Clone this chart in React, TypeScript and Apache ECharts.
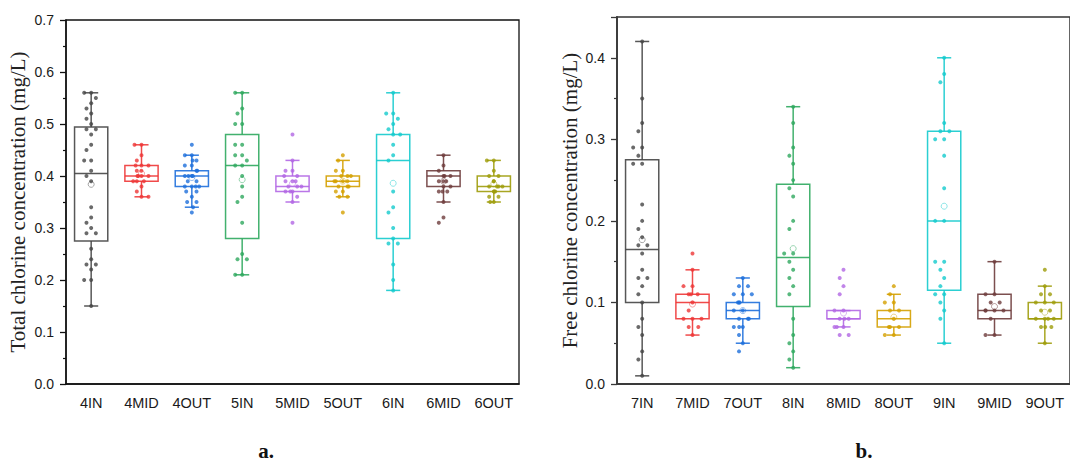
import React, { useEffect, useRef } from "react";
import * as echarts from "echarts";

// ---------- categories ----------
const catsA = ["4IN", "4MID", "4OUT", "5IN", "5MID", "5OUT", "6IN", "6MID", "6OUT"];
const catsB = ["7IN", "7MID", "7OUT", "8IN", "8MID", "8OUT", "9IN", "9MID", "9OUT"];
const palette = ["#454545", "#EE3636", "#1E6FDB", "#2EA85E", "#B267E4", "#D4A000", "#14CACD", "#6E3C3C", "#9E9C0A"];

// ---------- panel a: box stats [min, Q1, median, Q3, max] ----------
const boxA = [
  [0.15, 0.275, 0.405, 0.494, 0.56],
  [0.36, 0.39, 0.40, 0.42, 0.46],
  [0.34, 0.38, 0.40, 0.41, 0.44],
  [0.21, 0.28, 0.42, 0.48, 0.56],
  [0.35, 0.37, 0.38, 0.40, 0.43],
  [0.36, 0.38, 0.39, 0.40, 0.43],
  [0.18, 0.28, 0.43, 0.48, 0.56],
  [0.35, 0.38, 0.40, 0.41, 0.44],
  [0.35, 0.37, 0.38, 0.40, 0.43],
];
const meanA = [0.384, 0.405, 0.397, 0.393, 0.386, 0.39, 0.386, 0.39, 0.385];

const pts4IN = [0.56, 0.56, 0.55, 0.54, 0.53, 0.52, 0.51, 0.50, 0.49, 0.49, 0.48, 0.46, 0.45, 0.43, 0.43, 0.41, 0.40, 0.39, 0.34, 0.32, 0.31, 0.30, 0.29, 0.29, 0.26, 0.24, 0.23, 0.23, 0.22, 0.20, 0.20, 0.15];
const pts4MID = [0.46, 0.46, 0.44, 0.43, 0.42, 0.42, 0.42, 0.41, 0.41, 0.40, 0.40, 0.40, 0.40, 0.39, 0.39, 0.39, 0.38, 0.37, 0.36, 0.36];
const pts4OUT = [0.46, 0.44, 0.44, 0.43, 0.43, 0.42, 0.42, 0.41, 0.41, 0.40, 0.40, 0.40, 0.40, 0.39, 0.39, 0.38, 0.38, 0.38, 0.38, 0.37, 0.37, 0.36, 0.35, 0.35, 0.34, 0.33];
const pts5IN = [0.56, 0.56, 0.53, 0.52, 0.50, 0.50, 0.46, 0.46, 0.44, 0.44, 0.43, 0.42, 0.42, 0.40, 0.38, 0.36, 0.35, 0.31, 0.25, 0.24, 0.24, 0.21, 0.21];
const pts5MID = [0.48, 0.43, 0.41, 0.41, 0.40, 0.40, 0.39, 0.39, 0.39, 0.38, 0.38, 0.38, 0.37, 0.37, 0.37, 0.36, 0.35, 0.31];
const pts5OUT = [0.44, 0.43, 0.41, 0.41, 0.40, 0.40, 0.40, 0.39, 0.39, 0.39, 0.39, 0.38, 0.38, 0.38, 0.37, 0.37, 0.36, 0.36, 0.33];
const pts6IN = [0.56, 0.52, 0.52, 0.51, 0.50, 0.49, 0.48, 0.48, 0.46, 0.44, 0.43, 0.37, 0.34, 0.33, 0.30, 0.28, 0.27, 0.27, 0.23, 0.20, 0.18];
const pts6MID = [0.44, 0.42, 0.41, 0.40, 0.40, 0.40, 0.39, 0.39, 0.39, 0.38, 0.38, 0.37, 0.37, 0.37, 0.35, 0.32, 0.31];
const pts6OUT = [0.43, 0.43, 0.41, 0.40, 0.40, 0.39, 0.39, 0.38, 0.38, 0.38, 0.38, 0.37, 0.37, 0.37, 0.36, 0.36, 0.35, 0.35];
const pointsA = [pts4IN, pts4MID, pts4OUT, pts5IN, pts5MID, pts5OUT, pts6IN, pts6MID, pts6OUT];

// ---------- panel b ----------
const boxB = [
  [0.01, 0.10, 0.165, 0.275, 0.42],
  [0.06, 0.08, 0.10, 0.11, 0.14],
  [0.05, 0.08, 0.09, 0.10, 0.13],
  [0.02, 0.095, 0.155, 0.245, 0.34],
  [0.07, 0.08, 0.08, 0.09, 0.09],
  [0.06, 0.07, 0.08, 0.09, 0.11],
  [0.05, 0.115, 0.20, 0.31, 0.40],
  [0.06, 0.08, 0.09, 0.11, 0.15],
  [0.05, 0.08, 0.08, 0.10, 0.12],
];
const meanB = [0.177, 0.098, 0.09, 0.166, 0.087, 0.082, 0.218, 0.095, 0.088];

const pts7IN = [0.42, 0.35, 0.32, 0.31, 0.29, 0.29, 0.28, 0.27, 0.27, 0.22, 0.20, 0.19, 0.18, 0.17, 0.17, 0.16, 0.14, 0.13, 0.13, 0.12, 0.11, 0.10, 0.08, 0.07, 0.06, 0.04, 0.03, 0.01];
const pts7MID = [0.16, 0.14, 0.12, 0.12, 0.11, 0.11, 0.11, 0.10, 0.09, 0.08, 0.08, 0.08, 0.07, 0.07, 0.06];
const pts7OUT = [0.13, 0.12, 0.12, 0.11, 0.11, 0.11, 0.10, 0.10, 0.10, 0.09, 0.09, 0.08, 0.08, 0.08, 0.07, 0.07, 0.07, 0.06, 0.05, 0.04];
const pts8IN = [0.34, 0.32, 0.29, 0.28, 0.27, 0.25, 0.24, 0.23, 0.20, 0.19, 0.16, 0.16, 0.15, 0.14, 0.13, 0.12, 0.11, 0.08, 0.06, 0.05, 0.04, 0.03, 0.02];
const pts8MID = [0.14, 0.13, 0.12, 0.11, 0.09, 0.09, 0.08, 0.08, 0.08, 0.07, 0.07, 0.07, 0.06, 0.06];
const pts8OUT = [0.12, 0.11, 0.10, 0.10, 0.09, 0.09, 0.08, 0.07, 0.07, 0.07, 0.06, 0.06];
const pts9IN = [0.40, 0.38, 0.37, 0.32, 0.31, 0.31, 0.30, 0.30, 0.28, 0.24, 0.20, 0.20, 0.15, 0.15, 0.14, 0.13, 0.12, 0.11, 0.11, 0.10, 0.09, 0.08, 0.05];
const pts9MID = [0.15, 0.11, 0.11, 0.10, 0.10, 0.09, 0.09, 0.09, 0.09, 0.08, 0.06, 0.06];
const pts9OUT = [0.14, 0.12, 0.11, 0.11, 0.10, 0.10, 0.10, 0.09, 0.09, 0.08, 0.08, 0.08, 0.08, 0.07, 0.07, 0.07, 0.05];
const pointsB = [pts7IN, pts7MID, pts7OUT, pts8IN, pts8MID, pts8OUT, pts9IN, pts9MID, pts9OUT];

const yTicksA = ["0.0", "0.1", "0.2", "0.3", "0.4", "0.5", "0.6", "0.7"];
const yTicksB = ["0.0", "0.1", "0.2", "0.3", "0.4"];

const renderBox = (params: any, api: any) => {
  const i = api.value(0);
  const c = palette[params.dataIndex];
  const pMin = api.coord([i, api.value(1)]);
  const pQ1 = api.coord([i, api.value(2)]);
  const pMed = api.coord([i, api.value(3)]);
  const pQ3 = api.coord([i, api.value(4)]);
  const pMax = api.coord([i, api.value(5)]);
  const pMean = api.coord([i, api.value(6)]);
  const band = api.size([1, 0])[0];
  const bw = band * 0.66;
  const cw = band * 0.28;
  const x = pMed[0];
  const ls = { stroke: c, lineWidth: 1.5, fill: "none", opacity: 0.9 };
  return {
    type: "group",
    children: [
      { type: "line", shape: { x1: x, y1: pMax[1], x2: x, y2: pQ3[1] }, style: ls },
      { type: "line", shape: { x1: x, y1: pQ1[1], x2: x, y2: pMin[1] }, style: ls },
      { type: "line", shape: { x1: x - cw / 2, y1: pMax[1], x2: x + cw / 2, y2: pMax[1] }, style: ls },
      { type: "line", shape: { x1: x - cw / 2, y1: pMin[1], x2: x + cw / 2, y2: pMin[1] }, style: ls },
      { type: "rect", shape: { x: x - bw / 2, y: pQ3[1], width: bw, height: pQ1[1] - pQ3[1] }, style: ls },
      { type: "line", shape: { x1: x - bw / 2, y1: pMed[1], x2: x + bw / 2, y2: pMed[1] }, style: ls },
      { type: "circle", shape: { cx: x, cy: pMean[1], r: 3 }, style: { stroke: c, fill: "none", lineWidth: 0.8, opacity: 0.6 } },
    ],
  };
};

export default function App() {
  const ref = useRef<HTMLDivElement>(null);
  useEffect(() => {
    document.body.style.margin = "0";
    const chart = echarts.init(ref.current!, undefined, { renderer: "svg" });
    const tickFont = { fontFamily: "'Liberation Sans', Arial, sans-serif", color: "#1a1a1a" };
    const mkX = (cats: string[], grid: number, lineW: number, lineC: string, margin: number) => ({
      type: "category",
      gridIndex: grid,
      data: cats,
      boundaryGap: true,
      jitter: 18,
      jitterOverlap: false,
      jitterMargin: margin,
      axisLine: { lineStyle: { color: lineC, width: lineW } },
      axisTick: { alignWithLabel: true, length: 6, lineStyle: { color: lineC, width: 1.3 } },
      axisLabel: { ...tickFont, fontSize: 14.5, margin: 11, interval: 0 },
      splitLine: { show: false },
    });
    const mkY = (grid: number, max: number, ticks: string[], name: string, gap: number, lineW: number, lineC: string) => ({
      type: "value",
      gridIndex: grid,
      min: 0,
      max,
      interval: 0.1,
      name,
      nameLocation: "middle",
      nameGap: gap,
      nameTextStyle: { fontFamily: "'Liberation Serif', 'Times New Roman', serif", fontSize: 21, color: "#222" },
      axisLine: { show: true, lineStyle: { color: lineC, width: lineW } },
      axisTick: { show: true, length: 6, lineStyle: { color: lineC, width: 1.3 } },
      minorTick: { show: true, splitNumber: 2, length: 3, lineStyle: { color: lineC, width: 1.2 } },
      axisLabel: {
        ...tickFont,
        fontSize: 14,
        margin: 12,
        showMaxLabel: ticks.length === 8,
        formatter: (v: number) => ticks[Math.round(v * 10)] ?? "",
      },
      splitLine: { show: false },
    });

    const series: any[] = [
      {
        type: "custom",
        xAxisIndex: 0,
        yAxisIndex: 0,
        renderItem: renderBox,
        encode: { x: 0, y: [1, 2, 3, 4, 5, 6] },
        data: boxA.map((b, i) => [i, ...b, meanA[i]]),
        z: 2,
      },
      {
        type: "custom",
        xAxisIndex: 1,
        yAxisIndex: 1,
        renderItem: renderBox,
        encode: { x: 0, y: [1, 2, 3, 4, 5, 6] },
        data: boxB.map((b, i) => [i, ...b, meanB[i]]),
        z: 2,
      },
    ];
    pointsA.forEach((pts, i) =>
      series.push({
        type: "scatter",
        xAxisIndex: 0,
        yAxisIndex: 0,
        symbol: "circle",
        symbolSize: 4,
        itemStyle: { color: palette[i] },
        data: pts.map((v) => [i, v]),
        z: 3,
      })
    );
    pointsB.forEach((pts, i) =>
      series.push({
        type: "scatter",
        xAxisIndex: 1,
        yAxisIndex: 1,
        symbol: "circle",
        symbolSize: 4,
        itemStyle: { color: palette[i] },
        data: pts.map((v) => [i, v]),
        z: 3,
      })
    );

    chart.setOption({
      animation: false,
      backgroundColor: "#ffffff",
      grid: [
        { left: 66, top: 20, width: 453, height: 364, show: true, borderColor: "#111", borderWidth: 1.3, containLabel: false },
        { left: 617, top: 17, width: 455, height: 367, show: true, borderColor: "#333", borderWidth: 1.5, containLabel: false },
      ],
      xAxis: [mkX(catsA, 0, 1.5, "#111", 3), mkX(catsB, 1, 2, "#3a3a3a", 5)],
      yAxis: [
        mkY(0, 0.7, yTicksA, "Total chlorine concentration (mg/L)", 37.5, 1.5, "#111"),
        mkY(1, 0.45, yTicksB, "Free chlorine concentration (mg/L)", 36.5, 1.8, "#3a3a3a"),
      ],
      graphic: [
        { type: "text", x: 266, y: 451, style: { text: "a.", font: "bold 21px 'Liberation Serif', serif", fill: "#111", textAlign: "center", textVerticalAlign: "middle" } },
        { type: "text", x: 864, y: 451, style: { text: "b.", font: "bold 21px 'Liberation Serif', serif", fill: "#111", textAlign: "center", textVerticalAlign: "middle" } },
      ],
      series,
    });
    return () => chart.dispose();
  }, []);
  return <div ref={ref} style={{ width: 1070, height: 464 }} />;
}
